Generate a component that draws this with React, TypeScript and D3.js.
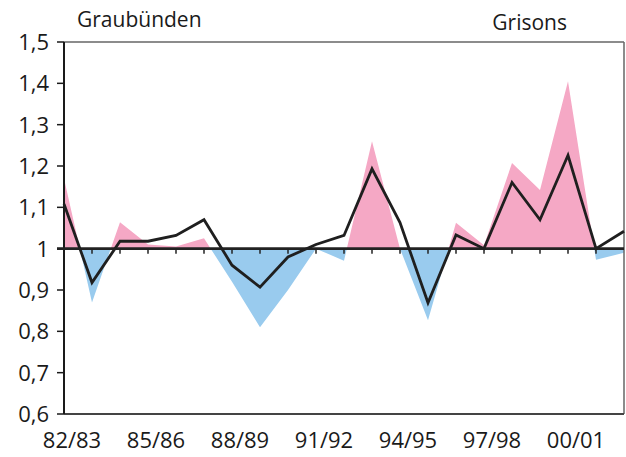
import React from "react";
import * as d3 from "d3";

const categories = ["82/83","83/84","84/85","85/86","86/87","87/88","88/89","89/90","90/91","91/92","92/93","93/94","94/95","95/96","96/97","97/98","98/99","99/00","00/01","01/02","02/03"];
const regionValues = [1.17,0.87,1.064,1.01,1.005,1.025,0.92,0.81,0.90,1.0,0.971,1.26,1.0,0.827,1.063,1.008,1.207,1.142,1.405,0.973,0.99];
const lineValues = [1.108,0.918,1.018,1.018,1.032,1.07,0.96,0.907,0.98,1.01,1.032,1.193,1.063,0.869,1.033,1.0,1.16,1.07,1.226,1.0,1.042];
const yTicks = [0.6,0.7,0.8,0.9,1.0,1.1,1.2,1.3,1.4,1.5];
const yTickLabels = ["0,6","0,7","0,8","0,9","1","1,1","1,2","1,3","1,4","1,5"];
const xLabelIdx = [0,3,6,9,12,15,18];
const titleLeft = "Graubünden";
const titleRight = "Grisons";

const W = 626, H = 457;
const L = 64, R = 624, T = 42, B = 414;
const FONT = "'Open Sans', sans-serif";

export default function App() {
  const x = d3.scalePoint<string>().domain(categories).range([L, R]);
  const y = d3.scaleLinear().domain([0.6, 1.5]).range([B, T]);
  const y1 = y(1);

  const area = d3.area<number>()
    .x((_, i) => x(categories[i])!)
    .y0(y1)
    .y1((d) => y(d));
  const line = d3.line<number>()
    .x((_, i) => x(categories[i])!)
    .y((d) => y(d));

  const areaPath = area(regionValues) || "";
  const linePath = line(lineValues) || "";

  return (
    <svg width={W} height={H} style={{ position: "absolute", left: 0, top: 0, background: "#fff" }} fontFamily={FONT}>
      <defs>
        <clipPath id="above"><rect x={L} y={T - 5} width={R - L} height={y1 - T + 5} /></clipPath>
        <clipPath id="below"><rect x={L} y={y1} width={R - L} height={B - y1} /></clipPath>
      </defs>
      <path d={areaPath} fill="#f5a8c5" clipPath="url(#above)" />
      <path d={areaPath} fill="#99cbee" clipPath="url(#below)" />

      {/* frame */}
      <line x1={L} x2={R} y1={T} y2={T} stroke="#666" strokeWidth={1.5} />
      <line x1={R} x2={R} y1={T} y2={B} stroke="#666" strokeWidth={1.5} />
      <line x1={L} x2={R} y1={B} y2={B} stroke="#444" strokeWidth={2} />
      <line x1={L} x2={L} y1={T} y2={B} stroke="#1a1a1a" strokeWidth={2} />

      {/* y ticks */}
      {yTicks.map((v, i) => (
        <g key={v}>
          <line x1={L - 7} x2={L} y1={y(v)} y2={y(v)} stroke="#1a1a1a" strokeWidth={1.5} />
          <text x={49} y={y(v)} dy="0.36em" textAnchor="end" fontSize={22} fill="#1a1a1a">{yTickLabels[i]}</text>
        </g>
      ))}

      {/* baseline at 1 */}
      <line x1={L - 7} x2={R} y1={y1} y2={y1} stroke="#222" strokeWidth={2.6} />
      {categories.slice(1, categories.length - 1).map((c) => (
        <line key={c} x1={x(c)} x2={x(c)} y1={y1} y2={y1 + 5} stroke="#222" strokeWidth={1.5} />
      ))}

      <path d={linePath} fill="none" stroke="#1f1f1f" strokeWidth={2.8} strokeLinejoin="miter" />

      {/* x labels */}
      {xLabelIdx.map((i) => (
        <text key={i} x={x(categories[i])! + 8} y={448} textAnchor="middle" fontSize={22} fill="#1a1a1a">{categories[i]}</text>
      ))}

      <text x={77} y={27} fontSize={21} fill="#1a1a1a">{titleLeft}</text>
      <text x={567} y={30} textAnchor="end" fontSize={21} fill="#1a1a1a">{titleRight}</text>
    </svg>
  );
}
